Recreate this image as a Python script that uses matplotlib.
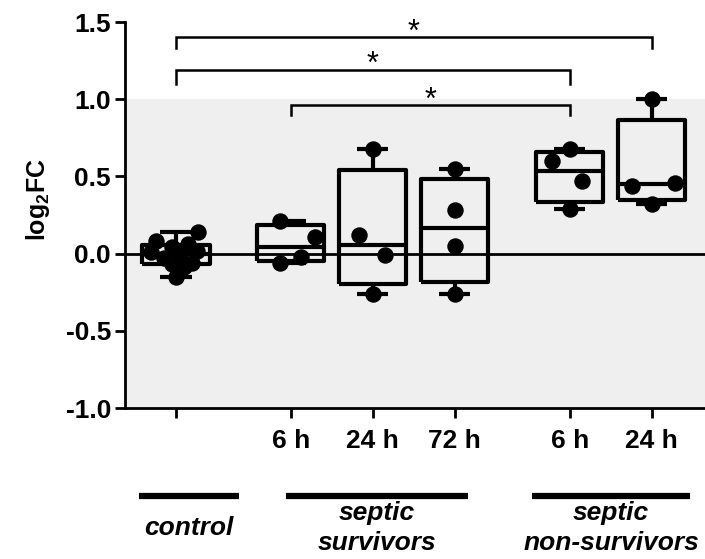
import numpy as np
import matplotlib
matplotlib.use('Agg')
import matplotlib.pyplot as plt
from matplotlib.transforms import blended_transform_factory

plt.rcParams['font.family'] = ['Liberation Sans', 'DejaVu Sans']
plt.rcParams['font.weight'] = 'bold'
plt.rcParams['axes.unicode_minus'] = False
plt.rcParams['mathtext.fontset'] = 'custom'
plt.rcParams['mathtext.rm'] = 'Liberation Sans:bold'

# data (log2 fold change per sample)
control = [0.14, 0.08, 0.06, 0.04, 0.02, 0.01, -0.01, -0.03, -0.06, -0.07, -0.09, -0.15]
surv_6h = [0.21, 0.11, -0.02, -0.06]
surv_24h = [0.68, 0.12, -0.01, -0.26]
surv_72h = [0.55, 0.28, 0.05, -0.26]
nonsurv_6h = [0.68, 0.60, 0.47, 0.29]
nonsurv_24h = [1.00, 0.46, 0.44, 0.32]

groups = [control, surv_6h, surv_24h, surv_72h, nonsurv_6h, nonsurv_24h]
tick_labels = ['', '6 h', '24 h', '72 h', '6 h', '24 h']
positions = [0, 1.4, 2.4, 3.4, 4.8, 5.8]

# horizontal jitter of the dots
jitter = [
    [0.27, -0.25, 0.15, -0.05, 0.25, -0.3, 0.05, -0.15, 0.2, -0.05, 0.1, 0.0],
    [-0.13, 0.29, 0.13, -0.13],
    [0.0, -0.17, 0.15, 0.0],
    [0.0, 0.0, 0.0, 0.0],
    [0.0, -0.22, 0.15, 0.0],
    [0.0, 0.28, -0.24, 0.0],
]

# significance brackets: (left group, right group, line y, leg bottom y)
brackets = [(0, 5, 1.40, 1.33), (0, 4, 1.19, 1.10), (1, 4, 0.96, 0.90)]

fig = plt.figure(figsize=(7.05, 5.59), dpi=100)
ax = fig.add_axes([125 / 705, 151 / 559, 580 / 705, 386 / 559])

ax.axhspan(-1.0, 1.0, color='#efefef', zorder=0, lw=0)
ax.axhline(0, color='black', lw=2, zorder=1)

stats = []
for vals in groups:
    v = np.array(vals)
    q1, med, q3 = np.percentile(v, [25, 50, 75], method='weibull')
    stats.append(dict(med=med, q1=q1, q3=q3, whislo=v.min(), whishi=v.max(), fliers=[]))

lp = dict(color='black', linewidth=3, solid_joinstyle='round', solid_capstyle='butt')
ax.bxp(stats, positions=positions, widths=0.82, capwidths=0.38, showfliers=False,
       boxprops=lp, whiskerprops=lp, capprops=lp, medianprops=lp,
       manage_ticks=False, zorder=2)

for pos, vals, jit in zip(positions, groups, jitter):
    ax.scatter(np.array(jit) + pos, vals, s=140, color='black', zorder=3, linewidths=0)

for a, b, yl, yb in brackets:
    xa, xb = positions[a], positions[b]
    ax.plot([xa, xa, xb, xb], [yb, yl, yl, yb], color='black', lw=1.8, clip_on=False,
            solid_joinstyle='miter')
    ax.text((xa + xb) / 2, yl - 0.02, '*', ha='center', va='baseline', fontsize=22,
            fontweight='normal')

ax.set_xlim(-0.622, 6.45)
ax.set_ylim(-1.0, 1.5)
ax.set_yticks([-1.0, -0.5, 0.0, 0.5, 1.0, 1.5])
ax.set_yticklabels(['-1.0', '-0.5', '0.0', '0.5', '1.0', '1.5'])
ax.set_xticks(positions)
ax.set_xticklabels(tick_labels)
ax.tick_params(axis='both', labelsize=19, width=2, length=7)
ax.tick_params(axis='x', pad=8)
ax.tick_params(axis='y', pad=3)
for lab in ax.get_xticklabels() + ax.get_yticklabels():
    lab.set_fontweight('bold')
for s in ['top', 'right']:
    ax.spines[s].set_visible(False)
for s in ['left', 'bottom']:
    ax.spines[s].set_linewidth(2)

fig.text(38 / 705, 1 - 200 / 559, r'log$_{\mathrm{2}}$FC', rotation=90, ha='center',
         va='center', fontsize=18, fontweight='bold')

# group bars and labels under the axis
tr = blended_transform_factory(ax.transData, fig.transFigure)
group_bars = [(-0.45, 0.77), (1.34, 3.56), (4.34, 6.27)]
group_names = ['control', 'septic\nsurvivors', 'septic\nnon-survivors']
bar_y = 1 - 496 / 559
text_y = 1 - 528 / 559
for (x0, x1), name in zip(group_bars, group_names):
    ax.plot([x0, x1], [bar_y, bar_y], transform=tr, color='black', lw=4.5,
            clip_on=False, solid_capstyle='butt')
    ax.text((x0 + x1) / 2, text_y, name, transform=tr, ha='center', va='center',
            fontsize=19, fontstyle='italic', fontweight='bold', linespacing=1.3)

fig.savefig('out.png', dpi=100)
